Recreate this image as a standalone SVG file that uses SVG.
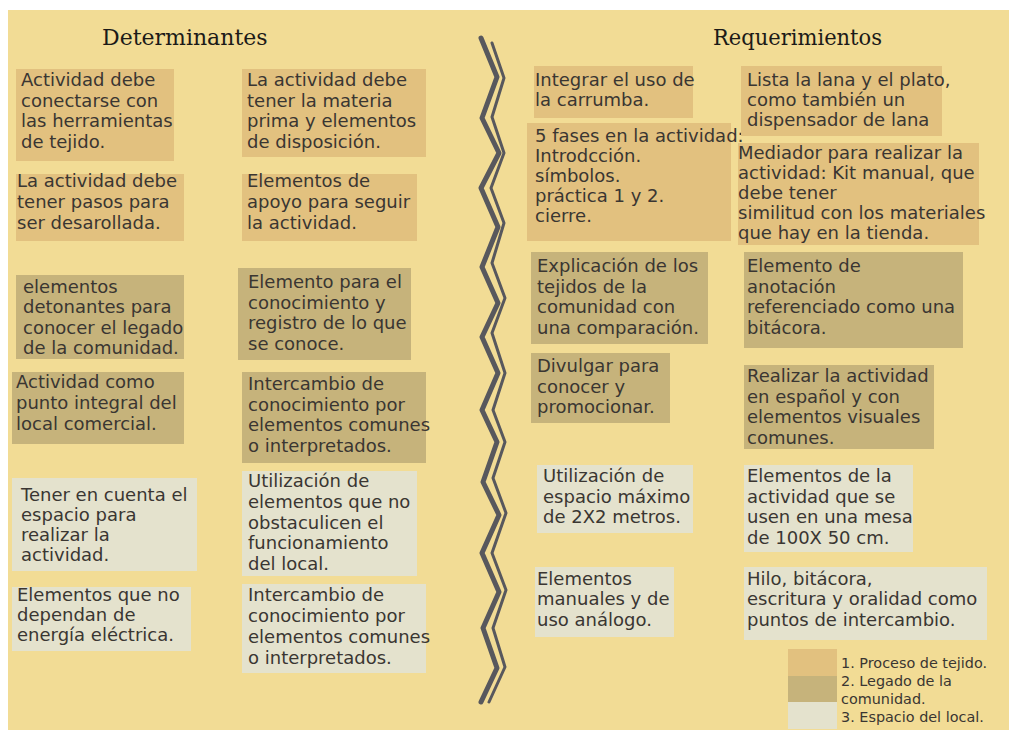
<svg xmlns="http://www.w3.org/2000/svg" width="1009" height="730" viewBox="0 0 1009 730">
<style>
.o{fill:#e2c17f}
.g{fill:#c6b37b}
.l{fill:#e4e2cd}
.t{font-family:"DejaVu Sans","Noto Sans",sans-serif;font-size:18px;fill:#3a3632}
.h{font-family:"DejaVu Serif","Liberation Serif",serif;font-size:22px;fill:#1c1a18}
.lg{font-family:"DejaVu Sans","Noto Sans",sans-serif;font-size:14.4px;fill:#3a3632}
.z{fill:none;stroke:#58585d;stroke-linejoin:round;stroke-linecap:round}
</style>
<rect x="0" y="0" width="1009" height="730" fill="#ffffff"/>
<rect x="8" y="10" width="1001" height="720" fill="#f2dc95"/>

<text class="h" x="102" y="45">Determinantes</text>
<text class="h" x="713" y="45" textLength="169" lengthAdjust="spacingAndGlyphs">Requerimientos</text>

<g id="divider">
<polyline class="z" stroke-width="5" points="481,38 497,77 482,118 499,153 481,188 498,227 482,267 498,303 482,337 498,373 482,410 497,442 483,482 499,515 482,553 499,592 483,628 497,668 481,702"/>
<polyline class="z" stroke-width="3" points="492,43 504,78 492,117 504,153 491,188 504,223 492,263 505,298 492,333 505,373 493,410 505,442 493,478 506,513 492,553 506,590 493,628 505,667 489,702"/>
</g>

<g id="connectors"></g>

<g id="d1"><rect class="o" x="16" y="69" width="158" height="92"/>
<text class="t" x="21" y="86">Actividad debe<tspan x="21" dy="20.7">conectarse con</tspan><tspan x="21" dy="20.7">las herramientas</tspan><tspan x="21" dy="20.7">de tejido.</tspan></text></g>

<g id="d2"><rect class="o" x="242" y="69" width="184" height="88"/>
<text class="t" x="247" y="86">La actividad debe<tspan x="247" dy="20.7">tener la materia</tspan><tspan x="247" dy="20.7">prima y elementos</tspan><tspan x="247" dy="20.7">de disposición.</tspan></text></g>

<g id="d3"><rect class="o" x="16" y="174" width="168" height="67"/>
<text class="t" x="17" y="187">La actividad debe<tspan x="17" dy="20.8">tener pasos para</tspan><tspan x="17" dy="20.8">ser desarollada.</tspan></text></g>

<g id="d4"><rect class="o" x="242" y="174" width="175" height="67"/>
<text class="t" x="247" y="187">Elementos de<tspan x="247" dy="20.8">apoyo para seguir</tspan><tspan x="247" dy="20.8">la actividad.</tspan></text></g>

<g id="d5"><rect class="g" x="16" y="275" width="168" height="84"/>
<text class="t" x="23" y="293">elementos<tspan x="23" dy="20.3">detonantes para</tspan><tspan x="23" dy="20.3">conocer el legado</tspan><tspan x="23" dy="20.3">de la comunidad.</tspan></text></g>

<g id="d6"><rect class="g" x="238" y="268" width="173" height="92"/>
<text class="t" x="248" y="288">Elemento para el<tspan x="248" dy="20.7">conocimiento y</tspan><tspan x="248" dy="20.7">registro de lo que</tspan><tspan x="248" dy="20.7">se conoce.</tspan></text></g>

<g id="d7"><rect class="g" x="12" y="372" width="172" height="72"/>
<text class="t" x="16" y="388">Actividad como<tspan x="16" dy="20.8">punto integral del</tspan><tspan x="16" dy="20.8">local comercial.</tspan></text></g>

<g id="d8"><rect class="g" x="242" y="372" width="184" height="91"/>
<text class="t" x="248" y="390">Intercambio de<tspan x="248" dy="20.6">conocimiento por</tspan><tspan x="248" dy="20.6">elementos comunes</tspan><tspan x="248" dy="20.6">o interpretados.</tspan></text></g>

<g id="d9"><rect class="l" x="12" y="478" width="185" height="93"/>
<text class="t" x="21" y="501">Tener en cuenta el<tspan x="21" dy="20">espacio para</tspan><tspan x="21" dy="20">realizar la</tspan><tspan x="21" dy="20">actividad.</tspan></text></g>

<g id="d10"><rect class="l" x="242" y="471" width="175" height="105"/>
<text class="t" x="248" y="487">Utilización de<tspan x="248" dy="20.8">elementos que no</tspan><tspan x="248" dy="20.8">obstaculicen el</tspan><tspan x="248" dy="20.8">funcionamiento</tspan><tspan x="248" dy="20.8">del local.</tspan></text></g>

<g id="d11"><rect class="l" x="12" y="587" width="179" height="64"/>
<text class="t" x="17" y="601">Elementos que no<tspan x="17" dy="20">dependan de</tspan><tspan x="17" dy="20">energía eléctrica.</tspan></text></g>

<g id="d12"><rect class="l" x="242" y="584" width="184" height="89"/>
<text class="t" x="248" y="601">Intercambio de<tspan x="248" dy="20.9">conocimiento por</tspan><tspan x="248" dy="20.9">elementos comunes</tspan><tspan x="248" dy="20.9">o interpretados.</tspan></text></g>

<g id="r1"><rect class="o" x="534" y="66" width="159" height="52"/>
<text class="t" x="535" y="86">Integrar el uso de<tspan x="535" dy="20">la carrumba.</tspan></text></g>

<g id="r2"><rect class="o" x="527" y="123" width="204" height="118"/>
<text class="t" x="535" y="142">5 fases en la actividad:<tspan x="535" dy="20">Introdcción.</tspan><tspan x="535" dy="20">símbolos.</tspan><tspan x="535" dy="20">práctica 1 y 2.</tspan><tspan x="535" dy="20">cierre.</tspan></text></g>

<g id="r3"><rect class="o" x="741" y="66" width="201" height="70"/>
<text class="t" x="747" y="86">Lista la lana y el plato,<tspan x="747" dy="20">como también un</tspan><tspan x="747" dy="20">dispensador de lana</tspan></text></g>

<g id="r4"><rect class="o" x="738" y="143" width="241" height="102"/>
<text class="t" x="738" y="159">Mediador para realizar la<tspan x="738" dy="20">actividad: Kit manual, que</tspan><tspan x="738" dy="20">debe tener</tspan><tspan x="738" dy="20">similitud con los materiales</tspan><tspan x="738" dy="20">que hay en la tienda.</tspan></text></g>

<g id="r5"><rect class="g" x="531" y="252" width="177" height="92"/>
<text class="t" x="537" y="272">Explicación de los<tspan x="537" dy="20.5">tejidos de la</tspan><tspan x="537" dy="20.5">comunidad con</tspan><tspan x="537" dy="20.5">una comparación.</tspan></text></g>

<g id="r6"><rect class="g" x="744" y="252" width="219" height="96"/>
<text class="t" x="747" y="272">Elemento de<tspan x="747" dy="20.5">anotación</tspan><tspan x="747" dy="20.5">referenciado como una</tspan><tspan x="747" dy="20.5">bitácora.</tspan></text></g>

<g id="r7"><rect class="g" x="531" y="353" width="139" height="70"/>
<text class="t" x="537" y="372">Divulgar para<tspan x="537" dy="20.5">conocer y</tspan><tspan x="537" dy="20.5">promocionar.</tspan></text></g>

<g id="r8"><rect class="g" x="744" y="365" width="190" height="84"/>
<text class="t" x="747" y="382">Realizar la actividad<tspan x="747" dy="20.5">en español y con</tspan><tspan x="747" dy="20.5">elementos visuales</tspan><tspan x="747" dy="20.5">comunes.</tspan></text></g>

<g id="r9"><rect class="l" x="537" y="465" width="156" height="68"/>
<text class="t" x="543" y="482">Utilización de<tspan x="543" dy="20.5">espacio máximo</tspan><tspan x="543" dy="20.5">de 2X2 metros.</tspan></text></g>

<g id="r10"><rect class="l" x="744" y="465" width="169" height="87"/>
<text class="t" x="747" y="482">Elementos de la<tspan x="747" dy="20.5">actividad que se</tspan><tspan x="747" dy="20.5">usen en una mesa</tspan><tspan x="747" dy="20.5">de 100X 50 cm.</tspan></text></g>

<g id="r11"><rect class="l" x="535" y="567" width="139" height="70"/>
<text class="t" x="537" y="585">Elementos<tspan x="537" dy="20.3">manuales y de</tspan><tspan x="537" dy="20.3">uso análogo.</tspan></text></g>

<g id="r12"><rect class="l" x="744" y="567" width="243" height="73"/>
<text class="t" x="747" y="585">Hilo, bitácora,<tspan x="747" dy="20.3">escritura y oralidad como</tspan><tspan x="747" dy="20.3">puntos de intercambio.</tspan></text></g>

<g id="legend">
<rect class="o" x="788" y="649" width="49" height="27"/>
<rect class="g" x="788" y="676" width="49" height="26"/>
<rect class="l" x="788" y="702" width="49" height="27"/>
<text class="lg" x="841" y="668">1. Proceso de tejido.</text>
<text class="lg" x="841" y="686">2. Legado de la</text>
<text class="lg" x="841" y="703.5">comunidad.</text>
<text class="lg" x="841" y="722">3. Espacio del local.</text>
</g>
</svg>
